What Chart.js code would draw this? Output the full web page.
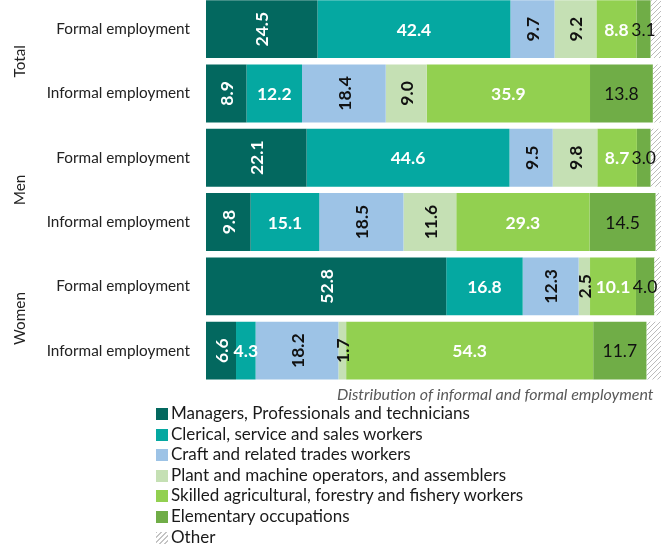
<!DOCTYPE html>
<html>
<head>
<meta charset="utf-8">
<script src="https://cdn.jsdelivr.net/npm/chart.js@4/dist/chart.umd.min.js"></script>
<style>
    body { margin: 0; background: #fff; font-family: Lato, sans-serif; }
    #wrap { position: absolute; left: 0; top: -3px; width: 661px; height: 409px; }
    #legend { position: absolute; left: 156px; top: 403px; }
    .item { height: 20.6px; line-height: 20.6px; font-size: 17px; color: #1a1a1a; white-space: nowrap; }
    .box { display: inline-block; width: 12px; height: 12px; margin-right: 3px; vertical-align: -1px; }
</style>
</head>
<body>
<div id="wrap"><canvas id="myChart"></canvas></div>
<div id="legend"></div>
<script>
var rowLabels = ['Formal employment', 'Informal employment', 'Formal employment', 'Informal employment', 'Formal employment', 'Informal employment'];
var groupLabels = ['Total', 'Men', 'Women'];
var seriesNames = [
    'Managers, Professionals and technicians',
    'Clerical, service and sales workers',
    'Craft and related trades workers',
    'Plant and machine operators, and assemblers',
    'Skilled agricultural, forestry and fishery workers',
    'Elementary occupations',
    'Other'
];
var managers   = [24.5, 8.9, 22.1, 9.8, 52.8, 6.6];
var clerical   = [42.4, 12.2, 44.6, 15.1, 16.8, 4.3];
var craft      = [9.7, 18.4, 9.5, 18.5, 12.3, 18.2];
var plant      = [9.2, 9.0, 9.8, 11.6, 2.5, 1.7];
var skilled    = [8.8, 35.9, 8.7, 29.3, 10.1, 54.3];
var elementary = [3.1, 13.8, 3.0, 14.5, 4.0, 11.7];
var other      = [2.3, 1.8, 2.3, 1.2, 1.5, 3.2];

var colors = ['#03685f', '#05a8a1', '#9dc3e6', '#c5e0b4', '#92d050', '#70ad47'];
// label style per series: rotated?, colour, bold?
var lblRotate = [true, false, true, true, false, false];
var lblColor = ['#ffffff', '#ffffff', '#111111', '#111111', '#ffffff', '#111111'];
var lblBold = [true, true, true, true, true, false];

function makeHatch() {
    var c = document.createElement('canvas');
    c.width = 5; c.height = 5;
    var g = c.getContext('2d');
    g.fillStyle = '#ffffff';
    g.fillRect(0, 0, 5, 5);
    g.strokeStyle = '#bcbcbc';
    g.lineWidth = 1;
    g.beginPath();
    g.moveTo(0, 5); g.lineTo(5, 0);
    g.moveTo(-1, 1); g.lineTo(1, -1);
    g.moveTo(4, 6); g.lineTo(6, 4);
    g.stroke();
    return g.createPattern(c, 'repeat');
}
var hatch = makeHatch();

var seriesData = [managers, clerical, craft, plant, skilled, elementary, other];
var datasets = [];
for (i = 0; i < seriesData.length; i++) {
    datasets.push({
        label: seriesNames[i],
        data: seriesData[i],
        backgroundColor: i < 6 ? colors[i] : hatch,
        borderWidth: 0,
        barPercentage: 0.9,
        categoryPercentage: 1
    });
}

var barLabels = {
    id: 'barLabels',
    afterDatasetsDraw: function (chart) {
        var ctx = chart.ctx;
        for (var d = 0; d < 6; d++) {
            var meta = chart.getDatasetMeta(d);
            meta.data.forEach(function (bar, j) {
                var v = chart.data.datasets[d].data[j];
                var cx = (bar.x + bar.base) / 2;
                ctx.save();
                ctx.font = (lblBold[d] ? 'bold ' : '') + '17.5px Lato';
                ctx.fillStyle = lblColor[d];
                ctx.textAlign = 'center';
                ctx.textBaseline = 'middle';
                ctx.translate(cx, bar.y);
                if (lblRotate[d]) ctx.rotate(-Math.PI / 2);
                ctx.fillText(v.toFixed(1), 0, 1);
                ctx.restore();
            });
        }
    }
};

function noPad(scale) {
    scale.paddingTop = 0;
    scale.paddingBottom = 0;
}

var ctx = document.getElementById('myChart').getContext('2d');
var myChart = new Chart(ctx, {
    type: 'bar',
    data: {
        labels: rowLabels,
        datasets: datasets
    },
    plugins: [barLabels],
    options: {
        indexAxis: 'y',
        responsive: true,
        maintainAspectRatio: false,
        animation: false,
        layout: { padding: 0 },
        plugins: {
            legend: { display: false },
            tooltip: { enabled: false }
        },
        scales: {
            x: {
                stacked: true,
                min: 0,
                max: 100,
                grid: { display: false, drawTicks: false },
                border: { display: false },
                ticks: { display: false },
                title: {
                    display: true,
                    text: 'Distribution of informal and formal employment\u00a0\u00a0',
                    align: 'end',
                    color: '#595959',
                    font: { family: 'Lato', size: 16, style: 'italic' },
                    padding: { top: 2, bottom: 2 }
                }
            },
            y: {
                stacked: true,
                weight: 0,
                grid: { display: false, drawTicks: false },
                border: { display: false },
                ticks: {
                    color: '#222222',
                    padding: 16,
                    font: { family: 'Lato', size: 15.3 }
                },
                afterFit: function (scale) { scale.width = 159.5; noPad(scale); }
            },
            y2: {
                type: 'category',
                position: 'left',
                weight: 1,
                labels: groupLabels,
                offset: true,
                grid: { display: false, drawTicks: false },
                border: { display: false },
                ticks: {
                    color: '#222222',
                    padding: 0,
                    minRotation: 90,
                    maxRotation: 90,
                    crossAlign: 'center',
                    font: { family: 'Lato', size: 15.3 }
                },
                afterFit: function (scale) { scale.width = 46.5; noPad(scale); }
            }
        }
    }
});

// legend, one item per line
var leg = document.getElementById('legend');
var html = '';
for (i = 0; i < seriesNames.length; i++) {
    var bg = i < 6 ? 'background:' + colors[i]
        : 'background:repeating-linear-gradient(135deg,#c4c4c4 0 1px,#fff 1px 3.5px)';
    html += '<div class="item"><span class="box" style="' + bg + '"></span>' + seriesNames[i] + '</div>';
}
leg.innerHTML = html;
</script>
</body>
</html>
